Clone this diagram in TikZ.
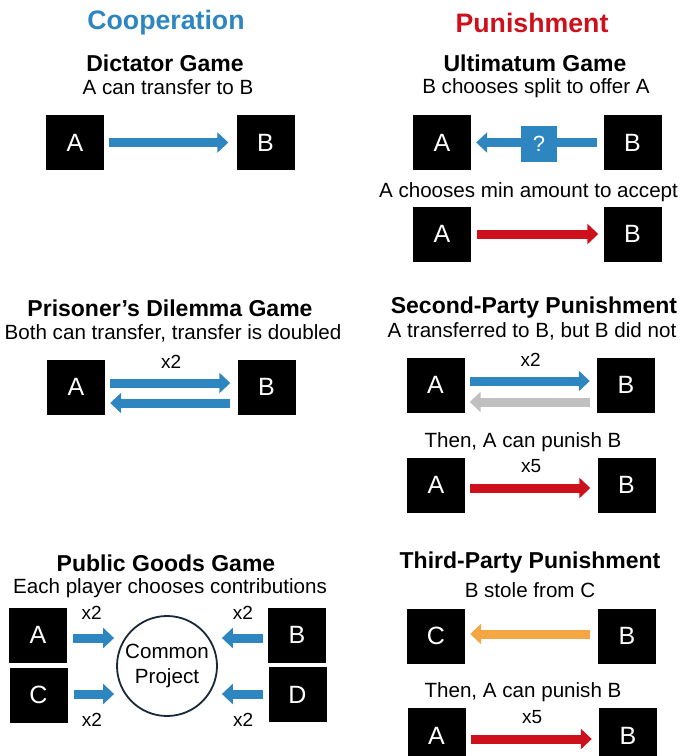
\documentclass[tikz,border=0pt]{standalone}
\usepackage{fontspec}
\setmainfont{Liberation Sans}
\usetikzlibrary{arrows.meta, positioning, calc}
\definecolor{coopblue}{RGB}{46,134,193}
\definecolor{punred}{RGB}{206,16,28}
\definecolor{stolen}{RGB}{243,166,66}
\definecolor{unpaid}{RGB}{192,192,192}
\definecolor{projnavy}{RGB}{24,40,56}

\begin{document}
\begin{tikzpicture}[x=1pt, y=-1pt, >=Stealth]
    \tikzset{
        player/.style={fill=black, text=white, minimum width=58pt, minimum height=55pt, inner sep=0pt, font=\fontsize{25}{25}\selectfont},
        heading/.style={font=\fontsize{26.7}{27}\selectfont\bfseries},
        gtitle/.style={font=\fontsize{23}{23}\selectfont\bfseries},
        gtext/.style={font=\fontsize{20.6}{25}\selectfont},
        mult/.style={font=\fontsize{19}{19}\selectfont, text=black},
        flow/.style={line width=9pt, -{Triangle[length=11pt,width=20pt]}},
    }
    \useasboundingbox (0,0) rectangle (696,756);

    % column headings
    \node[heading, text=coopblue] (coop) at (166,23) {Cooperation};
    \node[heading, text=punred] (pun) at (532,23) {Punishment};

    % dictator game
    \node[gtitle] (dgT) at (165,63) {Dictator Game};
    \node[gtext] (dgS) at (168,87) {A can transfer to B};
    \node[player] (dgA) at (75,142.5) {A};
    \node[player] (dgB) at (265.5,142.5) {B};
    \draw[flow, coopblue, shorten <=5pt, shorten >=8pt] (dgA) -- (dgB);

    % ultimatum game
    \node[gtitle] (ugT) at (535,63) {Ultimatum Game};
    \node[gtext] (ugS) at (536,88) {B chooses split to offer A};
    \node[player] (ugA) at (442,142.5) {A};
    \node[player] (ugB) at (632.5,142.5) {B};
    \draw[flow, coopblue, shorten <=6pt, shorten >=5pt] (ugB) -- (ugA);
    \node[fill=coopblue, text=white, minimum size=36pt, inner sep=0pt, font=\fontsize{22}{22}\selectfont] (ugQ) at (539,143.5) {?};
    \node[gtext] (ugS2) at (528.5,192) {A chooses min amount to accept};
    \node[player] (ugA2) at (442,234) {A};
    \node[player] (ugB2) at (632.5,234) {B};
    \draw[flow, punred, shorten <=6pt, shorten >=5pt] (ugA2) -- (ugB2);

    % prisoner's dilemma
    \node[gtitle] (pdT) at (170,308) {Prisoner's Dilemma Game};
    \node[gtext] (pdS) at (173,333) {Both can transfer, transfer is doubled};
    \node[player] (pdA) at (76,387) {A};
    \node[player] (pdB) at (266.5,387) {B};
    \draw[flow, coopblue, shorten <=5pt, shorten >=7pt] ([yshift=4pt]pdA.east) -- ([yshift=4pt]pdB.west)
        node[mult, midway, above=7pt] {x2};
    \draw[flow, coopblue, shorten <=7pt, shorten >=5pt] ([yshift=-16pt]pdB.west) -- ([yshift=-16pt]pdA.east);

    % second-party punishment
    \node[gtitle] (spT) at (534,308) {Second-Party Punishment};
    \node[gtext] (spS) at (532,331) {A transferred to B, but B did not};
    \node[player] (spA) at (435.5,385) {A};
    \node[player] (spB) at (626,385) {B};
    \draw[flow, coopblue, shorten <=5pt, shorten >=7pt] ([yshift=4pt]spA.east) -- ([yshift=4pt]spB.west)
        node[mult, midway, above=7pt] {x2};
    \draw[flow, unpaid, shorten <=7pt, shorten >=5pt] ([yshift=-17pt]spB.west) -- ([yshift=-17pt]spA.east);
    \node[gtext] (spS2) at (523,442) {Then, A can punish B};
    \node[player] (spA2) at (436,485) {A};
    \node[player] (spB2) at (626.5,485) {B};
    \draw[flow, punred, shorten <=5pt, shorten >=7pt] ([yshift=-3pt]spA2.east) -- ([yshift=-3pt]spB2.west)
        node[mult, midway, above=7pt] {x5};

    % public goods game
    \node[gtitle] (pgT) at (166,563) {Public Goods Game};
    \node[gtext] (pgS) at (170,588) {Each player chooses contributions};
    \node[player] (pgA) at (38,635) {A};
    \node[player] (pgC) at (38.5,695) {C};
    \node[player] (pgB) at (297,635) {B};
    \node[player] (pgD) at (297.5,694.5) {D};
    \node[gtext, draw=projnavy, circle, line width=1.8pt, minimum size=100pt, inner sep=0pt, align=center] (pgP) at (167,666) {Common\\Project};
    \draw[flow, coopblue, shorten <=6pt, shorten >=2pt] ($(pgA.east)+(0,3)$) -- ($(pgA.east -| pgP.west)+(0,3)$)
        node[mult, midway, above=11pt] {x2};
    \draw[flow, coopblue, shorten <=6pt, shorten >=2pt] ($(pgC.east)+(0,-1)$) -- ($(pgC.east -| pgP.west)+(0,-1)$)
        node[mult, midway, below=11pt] {x2};
    \draw[flow, coopblue, shorten <=5pt, shorten >=4pt] ($(pgB.west)+(0,3)$) -- ($(pgB.west -| pgP.east)+(0,3)$)
        node[mult, midway, above=11pt] {x2};
    \draw[flow, coopblue, shorten <=5pt, shorten >=4pt] ($(pgD.west)+(0,-0.5)$) -- ($(pgD.west -| pgP.east)+(0,-0.5)$)
        node[mult, midway, below=11pt] {x2};

    % third-party punishment
    \node[gtitle] (tpT) at (530,563) {Third-Party Punishment};
    \node[gtext] (tpS) at (530,590) {B stole from C};
    \node[player] (tpC) at (436,636) {C};
    \node[player] (tpB) at (627,636) {B};
    \draw[flow, stolen, shorten <=8pt, shorten >=5pt] ([yshift=2pt]tpB.west) -- ([yshift=2pt]tpC.east);
    \node[gtext] (tpS2) at (523,692) {Then, A can punish B};
    \node[player] (tpA) at (436.5,735.5) {A};
    \node[player] (tpB2) at (628,735.5) {B};
    \draw[flow, punred, shorten <=5pt, shorten >=7pt] ([yshift=-3.5pt]tpA.east) -- ([yshift=-3.5pt]tpB2.west)
        node[mult, midway, above=7pt] {x5};
\end{tikzpicture}
\end{document}
